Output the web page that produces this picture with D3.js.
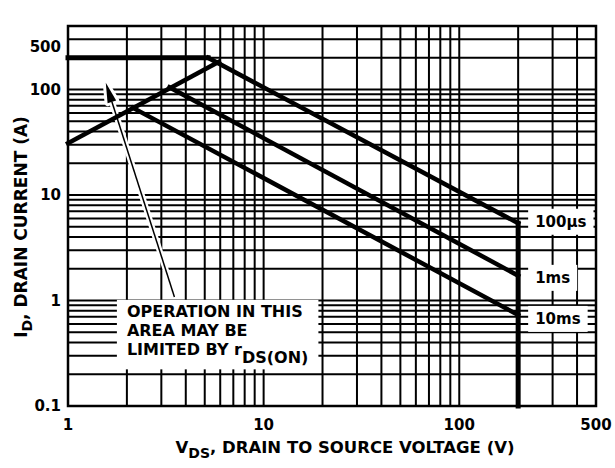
<!DOCTYPE html>
<html lang="en">
<head>
<meta charset="UTF-8">
<title>Forward Bias Safe Operating Area</title>
<script src="https://cdn.jsdelivr.net/npm/d3@7"></script>
<style>
  body { margin: 0; background: #fff; }
  svg text { font-family: "DejaVu Sans", sans-serif; font-weight: bold; fill: #000; }
</style>
</head>
<body>
<svg id="chart" width="615" height="468"></svg>
<script>
// axis ranges and tick labels
const xDomain = [1, 500]
const yDomain = [0.1, 400]
const xTickValues = [1, 10, 100, 500]
const xTickLabels = ['1', '10', '100', '500']
const yTickValues = [0.1, 1, 10, 100]
const yTickLabels = ['0.1', '1', '10', '100']
const yTopLabel = '500'
const gridSteps = [1, 2, 3, 4, 5, 6, 7, 8, 9]
const xDecades = [1, 10, 100]
const yDecades = [0.1, 1, 10, 100]

// SOA boundaries, VDS (V) and ID (A)
const idmV = [1, 5.2]
const idmI = [200, 200]
const rdsV = [1, 5.9]
const rdsI = [31, 183]
const us100V = [5.2, 200]
const us100I = [200, 5.4]
const ms1V = [3.3, 200]
const ms1I = [105, 1.72]
const ms10V = [2.15, 200]
const ms10I = [67, 0.73]
const bvdssV = [200, 200]
const bvdssI = [5.4, 0.1]

const curveLabels = ['100\u00b5s', '1ms', '10ms']
const curveLabelI = [5.0, 1.47, 0.6]

// annotation: text anchor and arrow (data coords)
const noteLines = ['OPERATION IN THIS', 'AREA MAY BE', 'LIMITED BY ']
const noteAt = [2.0, 0.7]
const arrowTail = [3.5, 1.08]
const arrowTip = [1.56, 116]

const svg = d3.select('#chart')
const pLeft = 68, pRight = 596, pTop = 26, pBottom = 406

const x = d3.scaleLog().domain(xDomain).range([pLeft, pRight])
const y = d3.scaleLog().domain(yDomain).range([pBottom, pTop])

// grid
const xGrid = xDecades.flatMap(d => gridSteps.map(s => d * s)).filter(v => v > xDomain[0] && v < xDomain[1])
const yGrid = yDecades.flatMap(d => gridSteps.map(s => d * s)).filter(v => v > yDomain[0] && v < yDomain[1])

const grid = svg.append('g').attr('stroke', '#000').attr('stroke-width', 2)
grid.selectAll('.vx').data(xGrid).join('line')
    .attr('x1', d => x(d)).attr('x2', d => x(d))
    .attr('y1', pTop).attr('y2', pBottom)
grid.selectAll('.hy').data(yGrid).join('line')
    .attr('y1', d => y(d)).attr('y2', d => y(d))
    .attr('x1', pLeft).attr('x2', pRight)

svg.append('rect')
    .attr('x', pLeft).attr('y', pTop)
    .attr('width', pRight - pLeft).attr('height', pBottom - pTop)
    .attr('fill', 'none').attr('stroke', '#000').attr('stroke-width', 2.5)

const boxLayer = svg.append('g')
const arrowLayer = svg.append('g')
const curveLayer = svg.append('g')
const textLayer = svg.append('g')

// arrow with white halo
const tx = x(arrowTip[0]), ty = y(arrowTip[1])
const sx = x(arrowTail[0]), sy = y(arrowTail[1])
const len = Math.hypot(tx - sx, ty - sy)
const ux = (tx - sx) / len, uy = (ty - sy) / len
const headL = 20, headW = 4.5
const bx = tx - ux * headL, by = ty - uy * headL
const head = [[tx, ty], [bx - uy * headW, by + ux * headW], [bx + uy * headW, by - ux * headW]]
arrowLayer.append('line')
    .attr('x1', sx).attr('y1', sy).attr('x2', bx).attr('y2', by)
    .attr('stroke', '#fff').attr('stroke-width', 6)
arrowLayer.append('polygon')
    .attr('points', head.map(p => p.join(',')).join(' '))
    .attr('fill', '#fff').attr('stroke', '#fff').attr('stroke-width', 6).attr('stroke-linejoin', 'round')
arrowLayer.append('line')
    .attr('x1', sx).attr('y1', sy).attr('x2', bx).attr('y2', by)
    .attr('stroke', '#000').attr('stroke-width', 1.5)
arrowLayer.append('polygon')
    .attr('points', head.map(p => p.join(',')).join(' '))
    .attr('fill', '#000')

// boundary curves
const line = d3.line().x(d => x(d[0])).y(d => y(d[1]))
const curves = [
    { v: idmV, i: idmI, w: 5 },
    { v: rdsV, i: rdsI, w: 4.5 },
    { v: us100V, i: us100I, w: 4.5 },
    { v: ms1V, i: ms1I, w: 4.5 },
    { v: ms10V, i: ms10I, w: 4.5 },
    { v: bvdssV, i: bvdssI, w: 5 }
]
curveLayer.selectAll('path').data(curves).join('path')
    .attr('d', c => line(d3.zip(c.v, c.i)))
    .attr('fill', 'none').attr('stroke', '#000')
    .attr('stroke-width', c => c.w)
    .attr('stroke-linecap', 'square')

// curve labels with white boxes
const labels = textLayer.selectAll('.clab').data(curveLabels).join('text')
    .attr('class', 'clab')
    .attr('x', x(200) + 17)
    .attr('y', (d, i) => y(curveLabelI[i]))
    .attr('font-size', 15)
    .text(d => d)
labels.each(function () {
    const b = this.getBBox()
    boxLayer.append('rect')
        .attr('x', b.x - 7).attr('y', b.y - 4)
        .attr('width', b.width + 14).attr('height', b.height + 8)
        .attr('fill', '#fff')
})

// annotation text, one text per line
const noteDy = [0, 19.5, 38.5]
const noteX = x(noteAt[0]), noteY = y(noteAt[1])
const notes = textLayer.selectAll('.note').data(noteLines).join('text')
    .attr('class', 'note')
    .attr('x', noteX).attr('y', (d, i) => noteY + noteDy[i])
    .attr('font-size', 16)
    .text(d => d)
const last = notes.filter((d, i) => i === noteLines.length - 1)
last.append('tspan').text('r')
last.append('tspan').attr('dy', 8).text('DS(ON)')
const nb = textLayer.selectAll('.note').nodes().map(n => n.getBBox())
const nx0 = d3.min(nb, b => b.x), nx1 = d3.max(nb, b => b.x + b.width)
const ny0 = d3.min(nb, b => b.y), ny1 = d3.max(nb, b => b.y + b.height)
boxLayer.append('rect')
    .attr('x', nx0 - 10).attr('y', ny0 - 2)
    .attr('width', nx1 - nx0 + 20).attr('height', ny1 - ny0 + 4)
    .attr('fill', '#fff')

// tick labels
textLayer.selectAll('.xt').data(xTickValues).join('text')
    .attr('x', d => x(d)).attr('y', 430)
    .attr('text-anchor', 'middle').attr('font-size', 15)
    .text((d, i) => xTickLabels[i])
textLayer.selectAll('.yt').data(yTickValues).join('text')
    .attr('x', 61).attr('y', d => y(d)).attr('dy', '0.36em')
    .attr('text-anchor', 'end').attr('font-size', 15)
    .text((d, i) => yTickLabels[i])
textLayer.append('text')
    .attr('x', 61).attr('y', pTop + 21).attr('dy', '0.36em')
    .attr('text-anchor', 'end').attr('font-size', 15)
    .text(yTopLabel)

// axis titles
const xt = textLayer.append('text')
    .attr('x', 345).attr('y', 453)
    .attr('text-anchor', 'middle').attr('font-size', 16.5)
xt.append('tspan').text('V')
xt.append('tspan').attr('dy', 5).attr('font-size', 14).text('DS')
xt.append('tspan').attr('dy', -5).text(', DRAIN TO SOURCE VOLTAGE (V)')

const yt = textLayer.append('text')
    .attr('transform', 'translate(27,227) rotate(-90)')
    .attr('text-anchor', 'middle').attr('font-size', 17)
yt.append('tspan').text('I')
yt.append('tspan').attr('dy', 5).attr('font-size', 14).text('D')
yt.append('tspan').attr('dy', -5).text(', DRAIN CURRENT (A)')
</script>
</body>
</html>
